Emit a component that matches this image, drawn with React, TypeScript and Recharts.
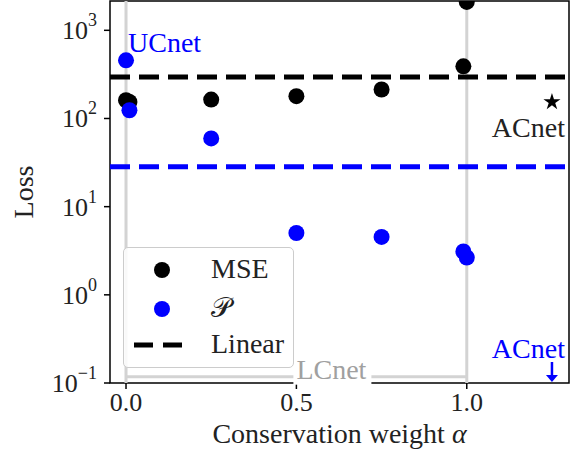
import React from 'react';
import {
  ComposedChart,
  Scatter,
  XAxis,
  YAxis,
  ReferenceLine,
  ReferenceDot,
  ReferenceArea,
  Legend,
  Symbols,
} from 'recharts';

// conservation weight alpha for each trained model
const alphaValues = [0, 0.01, 0.25, 0.5, 0.75, 0.99, 1.0];
const mseLoss = [161, 154, 164, 179, 213, 390, 2100];
const physLoss = [457, 124, 59.4, 5.03, 4.54, 3.1, 2.65];

// baselines
const linearMse = 296;
const linearPhys = 28.3;
const lcnetLoss = 0.118;
const acnetAlpha = 1.25;
const acnetMse = 154;

const yTicks = [0.1, 1, 10, 100, 1000];
const xTicks = [0, 0.5, 1.0];
const xDomain = [-0.047, 1.3];
const yDomain = [0.1, 2150];

const FONT = '"Liberation Serif", "Times New Roman", serif';
const BLUE = '#0000ff';
const GRAY = '#d3d3d3';
const LABEL_SIZE = 28;

const mseData = alphaValues.map((a, i) => ({ x: a, y: mseLoss[i] }));
const physData = alphaValues.map((a, i) => ({ x: a, y: physLoss[i] }));

const dot = (color: string) => (p: any) => (
  <circle cx={p.cx} cy={p.cy} r={8} fill={color} />
);

const LogTick = ({ x, y, payload }: any) => {
  const exp = Math.round(Math.log10(payload.value));
  return (
    <text x={x} y={y + 9} textAnchor="end" fontFamily={FONT} fontSize={26} fill="#222">
      <tspan>10</tspan>
      <tspan dy={-13} fontSize={18}>
        {exp < 0 ? '\u2212' + -exp : exp}
      </tspan>
    </text>
  );
};

const AlphaTick = ({ x, y, payload }: any) => (
  <text x={x} y={y + 20} textAnchor="middle" fontFamily={FONT} fontSize={26} fill="#222">
    {payload.value.toFixed(1)}
  </text>
);

const LegendBox = () => (
  <div
    style={{
      width: 169,
      height: 119,
      border: '1px solid #cccccc',
      borderRadius: 5,
      background: 'rgba(255,255,255,0.85)',
      fontFamily: FONT,
      fontSize: LABEL_SIZE,
      color: '#222',
      position: 'relative',
    }}
  >
    {[
      { label: 'MSE', kind: 'dot', color: '#000', top: 22 },
      { label: '\u{1D4AB}', kind: 'dot', color: BLUE, top: 61 },
      { label: 'Linear', kind: 'dash', color: '#000', top: 97 },
    ].map((row) => (
      <div key={row.label}>
        {row.kind === 'dot' ? (
          <div
            style={{
              position: 'absolute',
              left: 30,
              top: row.top - 8,
              width: 16,
              height: 16,
              borderRadius: 8,
              background: row.color,
            }}
          />
        ) : (
          <svg style={{ position: 'absolute', left: 10, top: row.top - 4 }} width={52} height={8}>
            <line x1={0} y1={4} x2={50} y2={4} stroke={row.color} strokeWidth={5} strokeDasharray="19 10" />
          </svg>
        )}
        <div style={{ position: 'absolute', left: 87, top: row.top - 17, lineHeight: '32px' }}>
          {row.label}
        </div>
      </div>
    ))}
  </div>
);

export default function App() {
  return (
    <div style={{ position: 'absolute', left: 0, top: 0, background: '#fff' }}>
      <ComposedChart width={580} height={454} margin={{ top: 1, right: 11, left: 0, bottom: 0 }}>
        <XAxis
          type="number"
          dataKey="x"
          domain={xDomain}
          ticks={xTicks}
          allowDataOverflow
          height={71}
          tick={<AlphaTick />}
          tickSize={6}
          axisLine={false}
          tickLine={{ stroke: '#000', strokeWidth: 1.5 }}
          label={(props: any) => {
            const vb = props.viewBox;
            return (
              <text
                x={vb.x + vb.width / 2}
                y={vb.y + 60}
                textAnchor="middle"
                fontFamily={FONT}
                fontSize={LABEL_SIZE}
                fill="#222"
              >
                Conservation weight <tspan fontStyle="italic">α</tspan>
              </text>
            );
          }}
        />
        <YAxis
          type="number"
          dataKey="y"
          scale="log"
          domain={yDomain}
          ticks={yTicks}
          allowDataOverflow
          width={110}
          tick={<LogTick />}
          tickSize={6}
          tickMargin={7}
          axisLine={false}
          tickLine={{ stroke: '#000', strokeWidth: 1.5 }}
          label={(props: any) => {
            const vb = props.viewBox;
            const cy = vb.y + vb.height / 2;
            return (
              <text
                x={33}
                y={cy}
                transform={`rotate(-90, 33, ${cy})`}
                textAnchor="middle"
                fontFamily={FONT}
                fontSize={LABEL_SIZE}
                fill="#222"
              >
                Loss
              </text>
            );
          }}
        />

        <ReferenceLine x={0} stroke={GRAY} strokeWidth={3} />
        <ReferenceLine x={1} stroke={GRAY} strokeWidth={3} />
        <ReferenceLine
          segment={[
            { x: 0, y: lcnetLoss },
            { x: 1, y: lcnetLoss },
          ]}
          stroke={GRAY}
          strokeWidth={3}
        />
        <ReferenceDot
          x={0.5}
          y={lcnetLoss}
          shape={(p: any) => (
            <g>
              <rect x={p.cx - 3} y={p.cy - 14} width={78} height={22} fill="#fff" />
              <text x={p.cx} y={p.cy + 2} fontFamily={FONT} fontSize={LABEL_SIZE} fill="#a0a0a0">
                LCnet
              </text>
            </g>
          )}
        />

        <ReferenceLine y={linearMse} stroke="#000" strokeWidth={5} strokeDasharray="20 9" />
        <ReferenceLine y={linearPhys} stroke={BLUE} strokeWidth={5} strokeDasharray="20 9" />

        <Scatter data={mseData} dataKey="y" fill="#000" shape={dot('#000')} isAnimationActive={false} />
        <Scatter data={physData} dataKey="y" fill={BLUE} shape={dot(BLUE)} isAnimationActive={false} />

        <ReferenceDot
          x={0}
          y={physLoss[0]}
          shape={(p: any) => (
            <text x={p.cx + 2} y={p.cy - 8} fontFamily={FONT} fontSize={LABEL_SIZE} fill={BLUE}>
              UCnet
            </text>
          )}
        />
        <ReferenceDot
          x={acnetAlpha}
          y={acnetMse}
          shape={(p: any) => (
            <g>
              <Symbols cx={p.cx} cy={p.cy} type="star" size={90} fill="#000" />
              <text x={p.cx + 13} y={p.cy + 35} textAnchor="end" fontFamily={FONT} fontSize={LABEL_SIZE} fill="#222">
                ACnet
              </text>
            </g>
          )}
        />
        <ReferenceDot
          x={acnetAlpha}
          y={yDomain[0]}
          shape={(p: any) => (
            <g>
              <text x={p.cx + 13} y={p.cy - 25} textAnchor="end" fontFamily={FONT} fontSize={LABEL_SIZE} fill={BLUE}>
                ACnet
              </text>
              <line x1={p.cx} y1={p.cy - 21} x2={p.cx} y2={p.cy - 5} stroke={BLUE} strokeWidth={2.5} />
              <path d={`M${p.cx - 6},${p.cy - 8} L${p.cx},${p.cy - 1} L${p.cx + 6},${p.cy - 8} Z`} fill={BLUE} />
            </g>
          )}
        />

        <ReferenceArea
          x1={xDomain[0]}
          x2={xDomain[1]}
          y1={yDomain[0]}
          y2={yDomain[1]}
          fill="none"
          fillOpacity={0}
          stroke="#000"
          strokeWidth={1.5}
        />

        <Legend
          layout="horizontal"
          verticalAlign="middle"
          align="center"
          wrapperStyle={{ left: 123, top: 247, width: 171, height: 121 }}
          content={() => <LegendBox />}
        />
      </ComposedChart>
    </div>
  );
}
